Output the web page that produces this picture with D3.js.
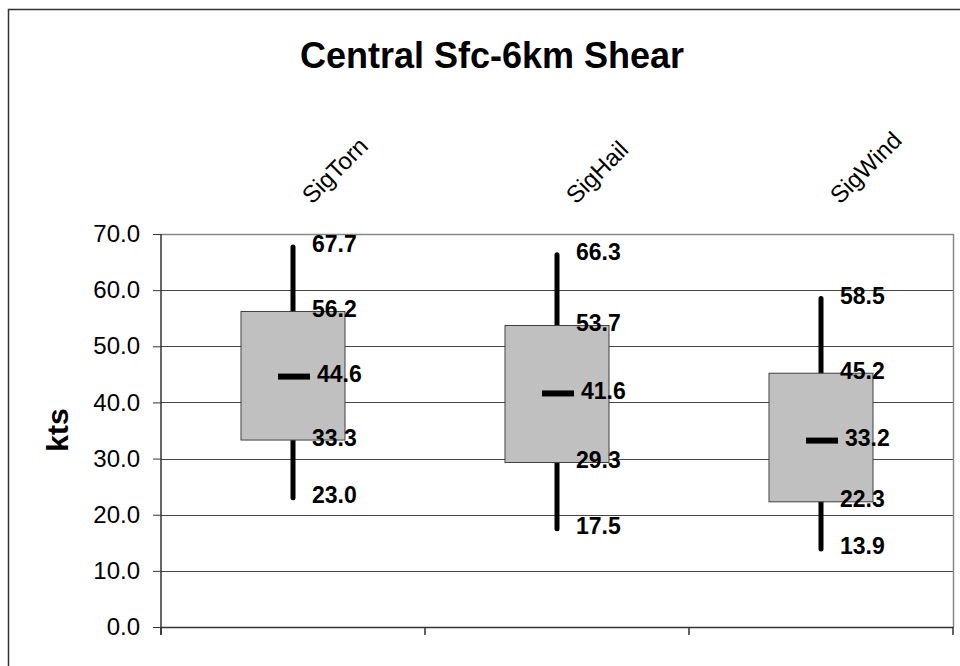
<!DOCTYPE html>
<html>
<head>
<meta charset="utf-8">
<script src="https://cdn.jsdelivr.net/npm/d3@7"></script>
<style>
  html, body { margin: 0; padding: 0; background: #fff; }
  svg { display: block; font-family: "Liberation Sans", Arial, sans-serif; }
</style>
</head>
<body>
<svg id="chart" width="960" height="666"></svg>
<script>
// Sfc-6km shear distributions (kts) for significant severe report types
const categories = ["SigTorn", "SigHail", "SigWind"];
const highs      = [67.7, 66.3, 58.5];
const upperQ     = [56.2, 53.7, 45.2];
const medians    = [44.6, 41.6, 33.2];
const lowerQ     = [33.3, 29.3, 22.3];
const lows       = [23.0, 17.5, 13.9];
const yTicks     = [0, 10, 20, 30, 40, 50, 60, 70];

const rows = categories.map((c, i) => ({
  cat: c, hi: highs[i], q3: upperQ[i], med: medians[i], q1: lowerQ[i], lo: lows[i]
}));

const svg = d3.select("#chart");
const plot = { left: 161, right: 953, top: 234, bottom: 627 };

// chart area frame (runs past the right and bottom edges)
svg.append("rect")
  .attr("x", 8.5).attr("y", 9.5)
  .attr("width", 1000).attr("height", 700)
  .attr("fill", "#fff").attr("stroke", "#333").attr("stroke-width", 1.5);

svg.append("text")
  .attr("x", 492).attr("y", 68)
  .attr("text-anchor", "middle")
  .attr("font-size", 36).attr("font-weight", "bold")
  .text("Central Sfc-6km Shear");

const x = d3.scaleBand().domain(categories).range([plot.left, plot.right]).padding(0);
const y = d3.scaleLinear().domain([0, 70]).range([plot.bottom, plot.top]);

// horizontal gridlines
svg.append("g").selectAll("line")
  .data(yTicks.filter(t => t > 0 && t < 70))
  .join("line")
  .attr("x1", plot.left).attr("x2", plot.right)
  .attr("y1", d => Math.round(y(d)) + 0.5).attr("y2", d => Math.round(y(d)) + 0.5)
  .attr("stroke", "#444").attr("stroke-width", 1);

// plot area border (top and right)
svg.append("path")
  .attr("d", `M${plot.left},${plot.top + 0.5}H${plot.right + 0.5}V${plot.bottom}`)
  .attr("fill", "none").attr("stroke", "#888").attr("stroke-width", 1.5);

// y axis
const yAxis = d3.axisLeft(y).tickValues(yTicks).tickSize(8).tickPadding(13)
  .tickFormat(d3.format(".1f"));
const gy = svg.append("g").attr("transform", `translate(${plot.left},0)`).call(yAxis);
gy.select(".domain").attr("stroke", "#333").attr("stroke-width", 1.5)
  .attr("d", `M0,${plot.top}V${plot.bottom + 8}`);
gy.selectAll(".tick line").attr("stroke", "#333");
gy.selectAll(".tick text").attr("font-size", 24).attr("fill", "#000")
  .attr("font-family", "Liberation Sans, Arial, sans-serif");

// x axis line with category boundary ticks
svg.append("line")
  .attr("x1", plot.left).attr("x2", plot.right + 0.5)
  .attr("y1", plot.bottom + 0.5).attr("y2", plot.bottom + 0.5)
  .attr("stroke", "#333").attr("stroke-width", 1.5);
const bounds = categories.map(c => x(c) + x.bandwidth()).concat([x(categories[0])]);
svg.append("g").selectAll("line").data(bounds).join("line")
  .attr("x1", d => d).attr("x2", d => d)
  .attr("y1", plot.bottom).attr("y2", plot.bottom + 8)
  .attr("stroke", "#333").attr("stroke-width", 1.5);

// category labels, slanted above the plot
svg.append("g").selectAll("text").data(categories).join("text")
  .attr("transform", d => `translate(${x(d) + x.bandwidth() / 2 + 19},${205}) rotate(-45)`)
  .attr("font-size", 24)
  .text(d => d);

// y axis title
svg.append("text")
  .attr("transform", "translate(68,430) rotate(-90)")
  .attr("text-anchor", "middle")
  .attr("font-size", 30).attr("font-weight", "bold")
  .text("kts");

const cx = d => x(d.cat) + x.bandwidth() / 2;
const boxW = 104;

// whiskers (high to low)
svg.append("g").selectAll("line").data(rows).join("line")
  .attr("x1", cx).attr("x2", cx)
  .attr("y1", d => y(d.hi)).attr("y2", d => y(d.lo))
  .attr("stroke", "#000").attr("stroke-width", 5).attr("stroke-linecap", "round");

// interquartile boxes
svg.append("g").selectAll("rect").data(rows).join("rect")
  .attr("x", d => cx(d) - boxW / 2)
  .attr("y", d => y(d.q3))
  .attr("width", boxW)
  .attr("height", d => y(d.q1) - y(d.q3))
  .attr("fill", "#c0c0c0").attr("stroke", "#404040").attr("stroke-width", 1);

// median marks
svg.append("g").selectAll("line").data(rows).join("line")
  .attr("x1", d => cx(d) - 15).attr("x2", d => cx(d) + 17)
  .attr("y1", d => y(d.med)).attr("y2", d => y(d.med))
  .attr("stroke", "#000").attr("stroke-width", 6);

// value labels
const labelData = [];
rows.forEach(d => {
  labelData.push({ x: cx(d) + 19, v: d.hi });
  labelData.push({ x: cx(d) + 19, v: d.q3 });
  labelData.push({ x: cx(d) + 24, v: d.med });
  labelData.push({ x: cx(d) + 19, v: d.q1 });
  labelData.push({ x: cx(d) + 19, v: d.lo });
});
svg.append("g").selectAll("text").data(labelData).join("text")
  .attr("x", d => d.x)
  .attr("y", d => y(d.v) + 5.5)
  .attr("font-size", 23).attr("font-weight", "bold")
  .text(d => d3.format(".1f")(d.v));
</script>
</body>
</html>
